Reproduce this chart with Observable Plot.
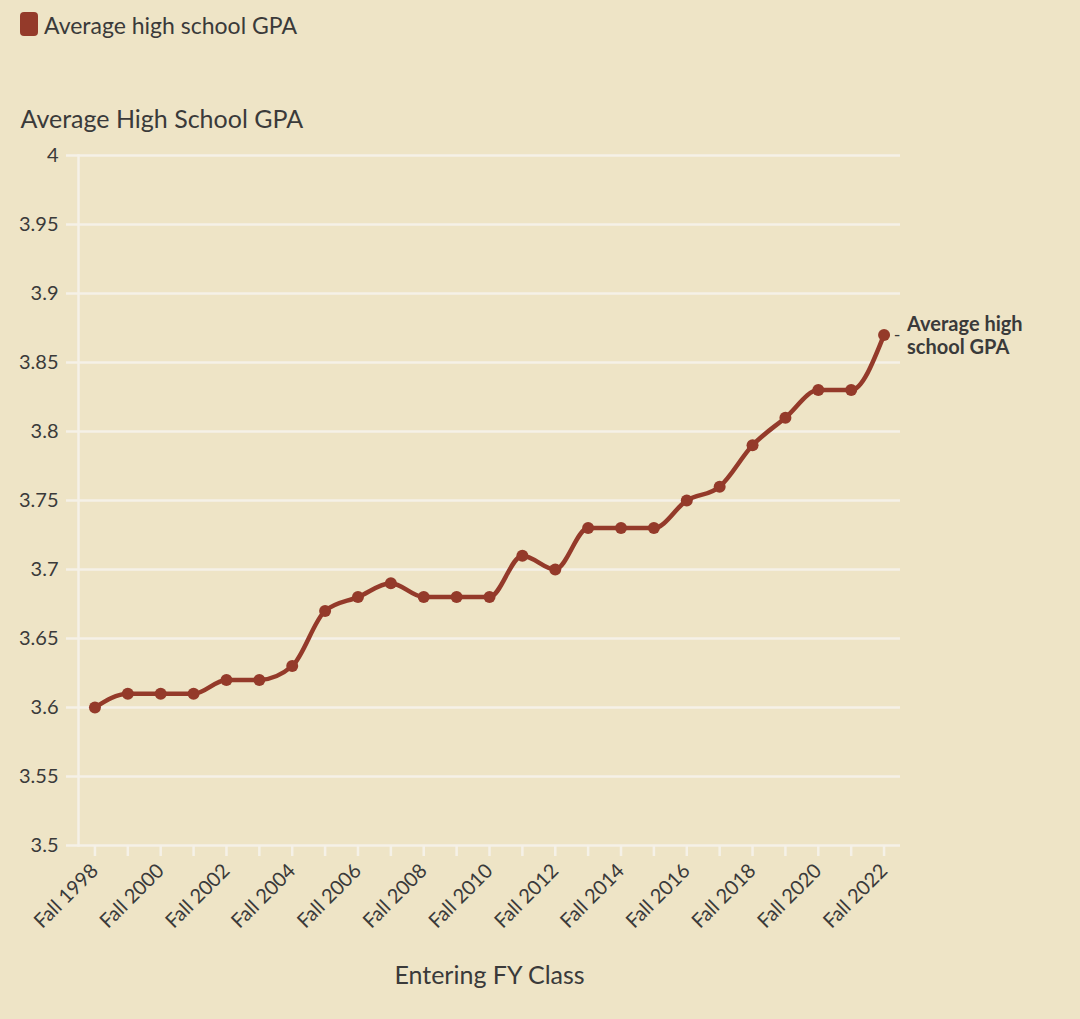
<!DOCTYPE html>
<html>
<head>
<meta charset="utf-8">
<script src="https://cdn.jsdelivr.net/npm/d3@7"></script>
<script src="https://cdn.jsdelivr.net/npm/@observablehq/plot@0.6"></script>
<style>
  html, body { margin: 0; padding: 0; background: #EEE4C6; }
  body { width: 1080px; height: 1019px; overflow: hidden; font-family: Lato, "Open Sans", sans-serif; color: #3a3a3a; }
  .legend { height: 52px; box-sizing: border-box; padding: 12px 0 0 20px; display: flex; align-items: flex-start; font-size: 23px; }
  .legend .sw { width: 18px; height: 24px; border-radius: 4px; background: #943A2A; margin-right: 6px; }
  .legend span { line-height: 26px; }
</style>
</head>
<body>
<div class="legend"><div class="sw"></div><span>Average high school GPA</span></div>
<div id="chart"></div>
<script>
const categories = ["Fall 1998","Fall 1999","Fall 2000","Fall 2001","Fall 2002","Fall 2003","Fall 2004","Fall 2005","Fall 2006","Fall 2007","Fall 2008","Fall 2009","Fall 2010","Fall 2011","Fall 2012","Fall 2013","Fall 2014","Fall 2015","Fall 2016","Fall 2017","Fall 2018","Fall 2019","Fall 2020","Fall 2021","Fall 2022"];
const gpa = [3.60,3.61,3.61,3.61,3.62,3.62,3.63,3.67,3.68,3.69,3.68,3.68,3.68,3.71,3.70,3.73,3.73,3.73,3.75,3.76,3.79,3.81,3.83,3.83,3.87];
const xTickLabels = ["Fall 1998","Fall 2000","Fall 2002","Fall 2004","Fall 2006","Fall 2008","Fall 2010","Fall 2012","Fall 2014","Fall 2016","Fall 2018","Fall 2020","Fall 2022"];
const yTicks = [3.5,3.55,3.6,3.65,3.7,3.75,3.8,3.85,3.9,3.95,4];
const seriesName = "Average high school GPA";
const yTitle = "Average High School GPA";
const xTitle = "Entering FY Class";

const data = categories.map((c, i) => ({year: c, gpa: gpa[i]}));
const last = data[data.length - 1];
const lineColor = "#943A2A";
const gridColor = "#F5F1E7";
const textColor = "#3a3a3a";

const chart = Plot.plot({
  width: 1080,
  height: 967,
  marginTop: 103,
  marginBottom: 174,
  marginLeft: 78,
  marginRight: 180,
  style: {background: "transparent", color: textColor, fontFamily: 'Lato, "Open Sans", sans-serif', fontSize: "20px"},
  x: {type: "point", domain: categories, padding: 0.5, round: false},
  y: {domain: [3.5, 4]},
  marks: [
    Plot.gridY(yTicks, {stroke: gridColor, strokeOpacity: 1, strokeWidth: 2.5}),
    Plot.axisY(yTicks, {tickSize: 12, tickPadding: 8, stroke: gridColor, strokeWidth: 2.5, tickFormat: d => String(+d.toFixed(2)), label: null, fontSize: 20, fill: textColor}),
    Plot.frame({anchor: "left", stroke: gridColor, strokeWidth: 2.5}),
    Plot.axisX(categories, {tickSize: 11, stroke: gridColor, strokeWidth: 2.5, tickFormat: () => "", label: null}),
    Plot.axisX(xTickLabels, {tickSize: 0, tickPadding: 22, tickRotate: -45, label: null, fontSize: 20, fill: textColor}),
    Plot.line(data, {x: "year", y: "gpa", stroke: lineColor, strokeWidth: 4.5, curve: "monotone-x"}),
    Plot.dot(data, {x: "year", y: "gpa", fill: lineColor, r: 6}),
    Plot.text([last], {x: "year", y: "gpa", text: () => "-", dx: 13, fontSize: 18, fill: textColor}),
    Plot.text([last], {x: "year", y: "gpa", text: () => "Average high\nschool GPA", dx: 23, textAnchor: "start", fontSize: 20, fontWeight: "bold", lineHeight: 1.15, letterSpacing: "0.6px", fill: textColor}),
    Plot.text([yTitle], {frameAnchor: "top-left", dx: -58, dy: -45, textAnchor: "start", fontSize: 25, fill: textColor}),
    Plot.text([xTitle], {frameAnchor: "bottom", dy: 138, fontSize: 25, fill: textColor})
  ]
});
document.getElementById("chart").appendChild(chart);
</script>
</body>
</html>
